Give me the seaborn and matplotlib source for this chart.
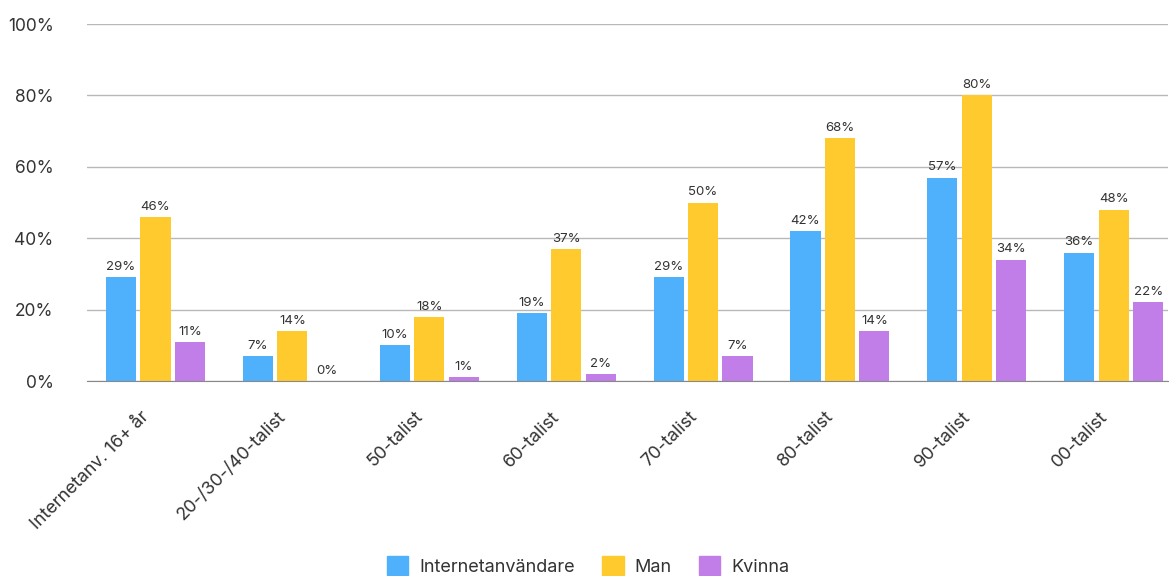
import matplotlib
matplotlib.use("Agg")
import matplotlib.pyplot as plt
import matplotlib.transforms as mtransforms
import seaborn as sns
import pandas as pd

categories = ["Internetanv. 16+ år", "20-/30-/40-talist", "50-talist", "60-talist",
              "70-talist", "80-talist", "90-talist", "00-talist"]
internetanvandare = [29, 7, 10, 19, 29, 42, 57, 36]
man = [46, 14, 18, 37, 50, 68, 80, 48]
kvinna = [11, 0, 1, 2, 7, 14, 34, 22]
series = ["Internetanvändare", "Man", "Kvinna"]
colors = ["#4FB0FC", "#FFCA2D", "#C17EE8"]

df = pd.DataFrame({
    "kategori": categories * 3,
    "serie": [s for s in series for _ in categories],
    "andel": internetanvandare + man + kvinna,
})

sns.set_style("white")
plt.rcParams["font.family"] = ["Inter", "DejaVu Sans"]
text_color = "#333333"

fig = plt.figure(figsize=(11.71, 5.76), dpi=100)
ax = fig.add_axes([0.0743, 0.3385, 0.9231, 0.6198])

sns.barplot(data=df, x="kategori", y="andel", hue="serie", hue_order=series,
            palette=colors, width=0.755, gap=0.125, saturation=1, linewidth=0,
            ax=ax, legend=False)

for c in ax.containers:
    ax.bar_label(c, labels=[f"{v:.0f}%" for v in c.datavalues], padding=3,
                 fontsize=9.5, color=text_color)

ax.set_ylim(0, 100)
ax.set_xlim(-0.5, 7.396)
ax.set_yticks(range(0, 101, 20))
ax.set_yticklabels([f"{t}%" for t in range(0, 101, 20)], fontsize=12.5, color=text_color)

# category labels, rotated and nudged down-left under each group
ax.set_xticks(range(len(categories)))
ax.set_xticklabels([])
shift = mtransforms.ScaledTranslation(-0.15, -0.27, fig.dpi_scale_trans)
for i, cat in enumerate(categories):
    ax.text(i, 0, cat, transform=ax.get_xaxis_transform() + shift, rotation=45,
            ha="right", va="top", rotation_mode="anchor", fontsize=13,
            color=text_color)

ax.tick_params(axis="y", length=0, pad=24)
ax.tick_params(axis="x", length=0)
ax.yaxis.grid(True, color="#b8b8b8", linewidth=1)
ax.set_axisbelow(True)
for s in ["top", "right", "left"]:
    ax.spines[s].set_visible(False)
ax.spines["bottom"].set_color("#888888")
ax.set_xlabel("")
ax.set_ylabel("")

handles = [plt.Rectangle((0, 0), 1, 1, color=c) for c in colors]
fig.legend(handles, series, loc="center", bbox_to_anchor=(588 / 1171, 1 - 566 / 576),
           ncol=3, frameon=False, fontsize=13, handlelength=1.2, handleheight=1.2,
           handletextpad=0.6, columnspacing=1.5, labelcolor=text_color)

fig.savefig("out.png", dpi=100)
